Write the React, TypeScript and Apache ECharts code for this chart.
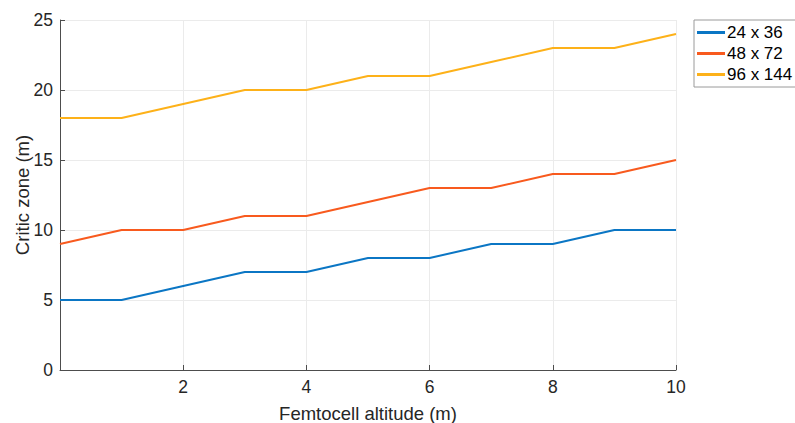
import React, { useEffect, useRef } from "react";
import * as echarts from "echarts";

const altitudes = [0, 1, 2, 3, 4, 5, 6, 7, 8, 9, 10];
const series24x36 = [5, 5, 6, 7, 7, 8, 8, 9, 9, 10, 10];
const series48x72 = [9, 10, 10, 11, 11, 12, 13, 13, 14, 14, 15];
const series96x144 = [18, 18, 19, 20, 20, 21, 21, 22, 23, 23, 24];
const seriesNames = ["24 x 36", "48 x 72", "96 x 144"];
const seriesColors = ["#0B76C4", "#F85A1E", "#FDB119"];

export default function App() {
  const ref = useRef<HTMLDivElement>(null);
  useEffect(() => {
    if (!ref.current) return;
    const chart = echarts.init(ref.current, undefined, { renderer: "svg" });
    const datasets = [series24x36, series48x72, series96x144];
    const font = "'Liberation Sans', Arial, Helvetica, sans-serif";
    chart.setOption({
      animation: false,
      backgroundColor: "#ffffff",
      textStyle: { fontFamily: font },
      grid: { left: 60, right: 119, top: 20, bottom: 53, containLabel: false, outerBoundsMode: "none" },
      legend: {
        orient: "vertical",
        left: 694,
        top: 20,
        data: seriesNames,
        icon: "rect",
        itemWidth: 28,
        itemHeight: 3,
        itemGap: 4,
        borderColor: "#9a9a9a",
        borderWidth: 1,
        padding: [4, 6, 4, 3],
        textStyle: { fontSize: 17, color: "#000", fontFamily: font, padding: [0, 0, 0, -3] },
      },
      xAxis: {
        type: "value",
        min: 0,
        max: 10,
        interval: 2,
        name: "Femtocell altitude (m)",
        nameLocation: "middle",
        nameGap: 34,
        nameMoveOverlap: false,
        nameTextStyle: { fontSize: 18.5, color: "#262626", fontFamily: font },
        axisLine: { show: true, lineStyle: { color: "#4d4d4d", width: 1 } },
        axisTick: { show: true, inside: true, length: 5, lineStyle: { color: "#4d4d4d" } },
        axisLabel: {
          fontSize: 17.5,
          color: "#262626",
          margin: 8,
          formatter: (v: number) => (v === 0 ? "" : String(v)),
        },
        splitLine: { show: true, lineStyle: { color: "#ebebeb", width: 1 } },
      },
      yAxis: {
        type: "value",
        min: 0,
        max: 25,
        interval: 5,
        name: "Critic zone (m)",
        nameLocation: "middle",
        nameGap: 28,
        nameMoveOverlap: false,
        nameTextStyle: { fontSize: 18.5, color: "#262626", fontFamily: font },
        axisLine: { show: true, lineStyle: { color: "#4d4d4d", width: 1 } },
        axisTick: { show: true, inside: true, length: 5, lineStyle: { color: "#4d4d4d" } },
        axisLabel: { fontSize: 17.5, color: "#262626", margin: 7 },
        splitLine: { show: true, lineStyle: { color: "#ebebeb", width: 1 } },
      },
      series: datasets.map((d, i) => ({
        name: seriesNames[i],
        type: "line",
        data: altitudes.map((x, j) => [x, d[j]]),
        showSymbol: false,
        symbol: "none",
        color: seriesColors[i],
        lineStyle: { color: seriesColors[i], width: 2 },
      })),
    });
    return () => chart.dispose();
  }, []);
  return (
    <div
      ref={ref}
      style={{ position: "fixed", left: 0, top: 0, width: 795, height: 423 }}
    />
  );
}
